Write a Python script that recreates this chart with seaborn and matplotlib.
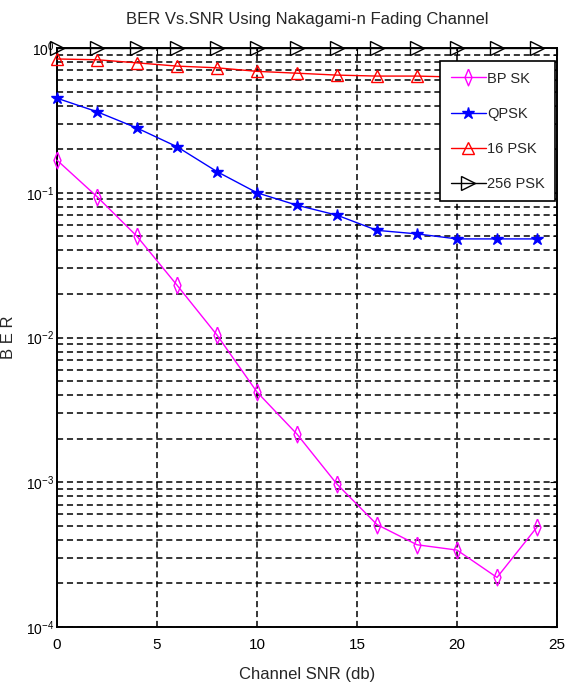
import matplotlib
matplotlib.use("Agg")
import matplotlib.pyplot as plt
from matplotlib.ticker import LogLocator, NullFormatter
import seaborn as sns
import pandas as pd

snr = [0, 2, 4, 6, 8, 10, 12, 14, 16, 18, 20, 22, 24]
ber_bpsk = [0.168, 0.094, 0.050, 0.023, 0.0104, 0.0042, 0.00215, 0.00097,
            0.00051, 0.00037, 0.00034, 0.00022, 0.00049]
ber_qpsk = [0.45, 0.363, 0.28, 0.208, 0.14, 0.10, 0.082, 0.070,
            0.055, 0.052, 0.048, 0.048, 0.048]
ber_16psk = [0.84, 0.83, 0.79, 0.75, 0.73, 0.69, 0.67, 0.65,
             0.64, 0.64, 0.63, 0.63, 0.62]
ber_256psk = [1.0] * 13

series = ["BPSK", "QPSK", "16 PSK", "256 PSK"]
legend_labels = ["BP SK", "QPSK", "16 PSK", "256 PSK"]
colors = ["#ff00ff", "#0000ff", "#ff0000", "#000000"]
# narrow diamond like MATLAB's thin rendering
thin_diamond = [(0, 1), (0.42, 0), (0, -1), (-0.42, 0), (0, 1)]
markers = [thin_diamond, "*", "^", ">"]
msizes = [12, 9, 9, 10]
mfaces = ["none", "#0000ff", "none", "none"]

df = pd.DataFrame({
    "snr": snr * 4,
    "ber": ber_bpsk + ber_qpsk + ber_16psk + ber_256psk,
    "mod": [s for s in series for _ in snr],
})

sns.set_style("white")
plt.rcParams["font.family"] = ["Liberation Sans Narrow", "Liberation Sans", "DejaVu Sans"]

fig = plt.figure(figsize=(5.66, 6.91), dpi=100)
ax = fig.add_axes([0.1007, 0.0926, 0.8834, 0.8379])

for s, lab, c, m, ms, fc in zip(series, legend_labels, colors, markers, msizes, mfaces):
    d = df[df["mod"] == s]
    sns.lineplot(data=d, x="snr", y="ber", ax=ax, color=c, marker=m,
                 markersize=ms, markerfacecolor=fc,
                 markeredgecolor=c, markeredgewidth=1.0, linewidth=1.0,
                 label=lab, clip_on=False, zorder=3)

ax.set_yscale("log")
ax.set_xlim(0, 25)
ax.set_ylim(1e-4, 1)
ax.set_xticks([0, 5, 10, 15, 20, 25])
ax.yaxis.set_major_locator(LogLocator(base=10, numticks=10))
ax.yaxis.set_minor_locator(LogLocator(base=10, subs=range(2, 10), numticks=50))
ax.yaxis.set_minor_formatter(NullFormatter())

ax.grid(True, which="major", axis="both", color="black", linestyle=(0, (4, 2.5)), linewidth=1.1)
ax.grid(True, which="minor", axis="y", color="black", linestyle=(0, (4, 2.5)), linewidth=1.1)

ax.tick_params(axis="both", which="both", direction="in", labelsize=11, colors="black",
               top=True, right=True)
ax.tick_params(axis="x", which="major", length=5, pad=8)
ax.tick_params(axis="y", which="major", length=5, pad=2, labelsize=10)
ax.tick_params(axis="y", which="minor", length=3)
for sp in ax.spines.values():
    sp.set_color("black")
    sp.set_linewidth(1.4)

ax.set_title("BER Vs.SNR Using Nakagami-n Fading Channel", fontsize=12, pad=17)
ax.set_xlabel("Channel SNR (db)", fontsize=12, labelpad=11)
ax.set_ylabel("B E R", fontsize=12)
ax.yaxis.set_label_coords(-0.082, 0.5)

leg = ax.legend(loc="upper right", bbox_to_anchor=(0.996, 0.977), borderaxespad=0,
                fontsize=10.5, frameon=True, fancybox=False, edgecolor="black",
                framealpha=1, handlelength=2.4, labelspacing=1.45, borderpad=0.7,
                handletextpad=0.1)
leg.get_frame().set_linewidth(1.2)

fig.savefig("out.png", dpi=100)
